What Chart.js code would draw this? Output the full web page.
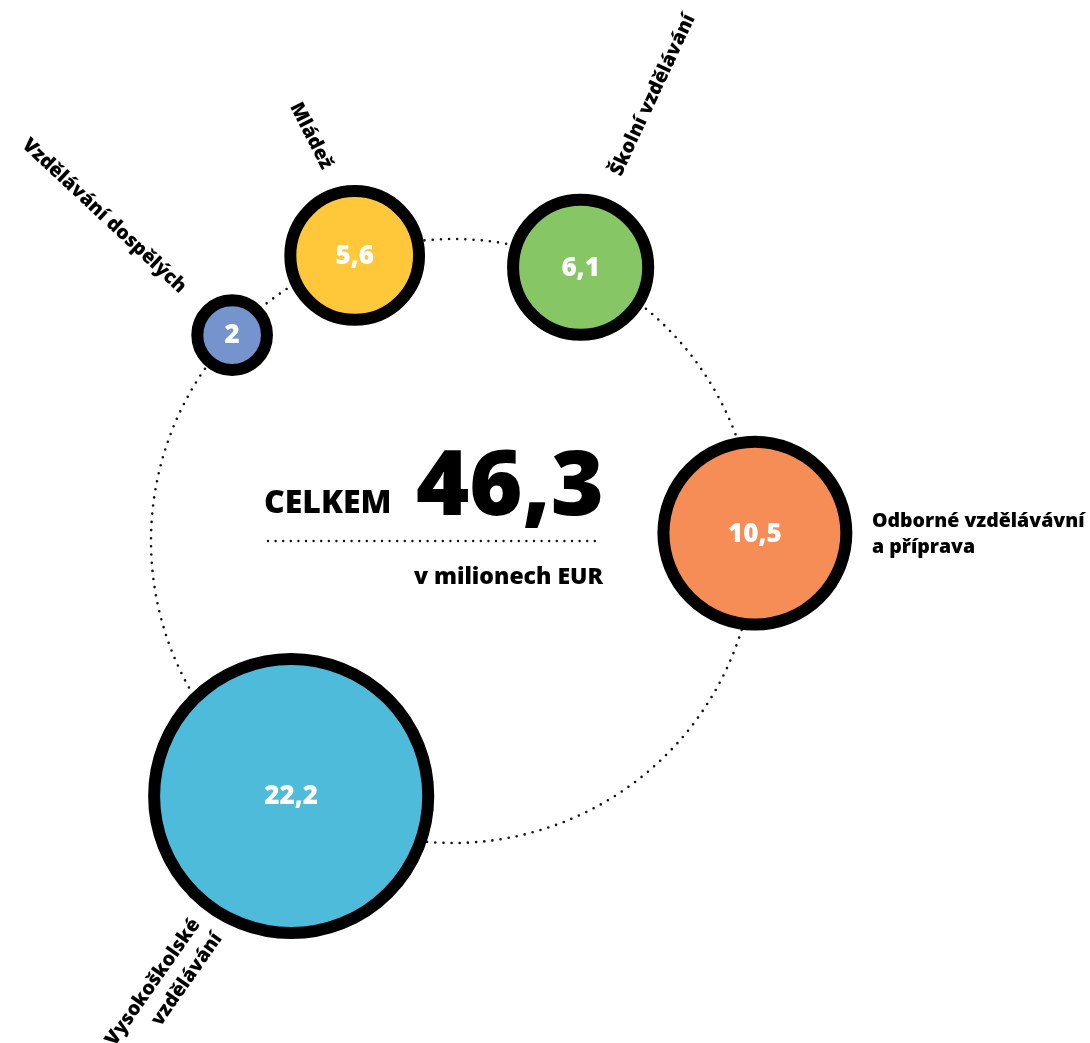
<!DOCTYPE html>
<html>
<head>
<meta charset="utf-8">
<script src="https://cdn.jsdelivr.net/npm/chart.js@4/dist/chart.umd.min.js"></script>
<style>
  html, body { margin: 0; padding: 0; background: #ffffff; }
  #wrap { width: 1090px; height: 1043px; position: relative; }
</style>
</head>
<body>
<div id="wrap"><canvas id="c"></canvas></div>
<script>
// ---- data ----
const categories = ["Vzdělávání dospělých", "Mládež", "Školní vzdělávání", "Odborné vzdělávávní a příprava", "Vysokoškolské vzdělávání"];
const values = [2, 5.6, 6.1, 10.5, 22.2];
const valueLabels = ["2", "5,6", "6,1", "10,5", "22,2"];
const totalLabel = "46,3";
const colors = ["#7593CC", "#FFC83B", "#86C664", "#F68C56", "#4EBBDA"];

// ---- layout (pixel space of the hidden linear scales) ----
const ring = { cx: 453, cy: 541, r: 302 };
const anglesDeg = [313, 341, 25, 88.5, 212.4]; // clockwise from top
const BORDER = 12;
const FONT = "'Open Sans', Lato, sans-serif";

const bubbleData = values.map((v, i) => {
  const a = anglesDeg[i] * Math.PI / 180;
  return {
    x: ring.cx + ring.r * Math.sin(a),
    y: ring.cy - ring.r * Math.cos(a),
    r: 31 * Math.sqrt(v) - 9
  };
});

const ringPlugin = {
  id: 'ring',
  beforeDatasetsDraw(chart) {
    const { ctx, scales: { x, y } } = chart;
    const cx = x.getPixelForValue(ring.cx), cy = y.getPixelForValue(ring.cy);
    const rr = x.getPixelForValue(ring.cx + ring.r) - cx;
    ctx.save();
    ctx.strokeStyle = '#111';
    ctx.lineWidth = 2.6;
    ctx.lineCap = 'round';
    ctx.setLineDash([0, 8.2]);
    ctx.beginPath();
    ctx.arc(cx, cy, rr, 0, Math.PI * 2);
    ctx.stroke();
    // dotted rule under the total
    ctx.beginPath();
    ctx.moveTo(x.getPixelForValue(268), y.getPixelForValue(541));
    ctx.lineTo(x.getPixelForValue(601), y.getPixelForValue(541));
    ctx.setLineDash([0, 7.6]);
    ctx.lineWidth = 2.4;
    ctx.stroke();
    ctx.restore();
  }
};

const textPlugin = {
  id: 'texts',
  afterDatasetsDraw(chart) {
    const { ctx, scales: { x, y } } = chart;
    const px = v => x.getPixelForValue(v), py = v => y.getPixelForValue(v);
    ctx.save();
    // value labels inside bubbles
    const meta = chart.getDatasetMeta(0);
    meta.data.forEach((el, i) => {
      ctx.font = `800 26px ${FONT}`;
      ctx.fillStyle = '#ffffff';
      ctx.textAlign = 'center';
      ctx.textBaseline = 'middle';
      ctx.fillText(valueLabels[i], el.x, el.y + 1);
    });

    // centre totals
    ctx.fillStyle = '#000';
    ctx.textBaseline = 'alphabetic';
    ctx.textAlign = 'left';
    ctx.font = `800 32px ${FONT}`;
    ctx.fillText('CELKEM', px(264), py(513));
    ctx.font = `800 91px ${FONT}`;
    ctx.textAlign = 'right';
    ctx.fillText(totalLabel, px(604), py(515));
    ctx.font = `800 23px ${FONT}`;
    ctx.fillText('v milionech EUR', px(603), py(584));

    // category labels
    const rot = (txt, cxp, cyp, deg, align) => {
      ctx.save();
      ctx.translate(px(cxp), py(cyp));
      ctx.rotate(deg * Math.PI / 180);
      ctx.textAlign = align || 'center';
      ctx.textBaseline = 'middle';
      ctx.font = `800 19.5px ${FONT}`;
      ctx.fillText(txt, 0, 0);
      ctx.restore();
    };
    rot(categories[0], 104, 216, 43);
    rot(categories[1], 311, 136, 63);
    rot(categories[2], 653, 95, -65);

    ctx.textAlign = 'left';
    ctx.textBaseline = 'alphabetic';
    ctx.font = `800 19.5px ${FONT}`;
    ctx.fillText('Odborné vzdělávávní', px(872), py(527));
    ctx.fillText('a příprava', px(872), py(553));

    rot('Vysokoškolské', 196, 921, -55, 'right');
    rot('vzdělávání', 218, 935, -55, 'right');
    ctx.restore();
  }
};

new Chart(document.getElementById('c'), {
  type: 'bubble',
  data: {
    labels: categories,
    datasets: [{
      label: 'Výdaje',
      data: bubbleData,
      backgroundColor: colors,
      borderColor: '#000000',
      borderWidth: BORDER,
      hoverBorderWidth: BORDER,
      hoverRadius: 0
    }]
  },
  options: {
    responsive: true,
    maintainAspectRatio: false,
    animation: false,
    events: [],
    layout: { padding: 0, autoPadding: false },
    clip: false,
    plugins: { legend: { display: false }, tooltip: { enabled: false } },
    scales: {
      x: { type: 'linear', min: 0, max: 1090, display: false },
      y: { type: 'linear', min: 0, max: 1043, reverse: true, display: false }
    }
  },
  plugins: [ringPlugin, textPlugin]
});
</script>
</body>
</html>
